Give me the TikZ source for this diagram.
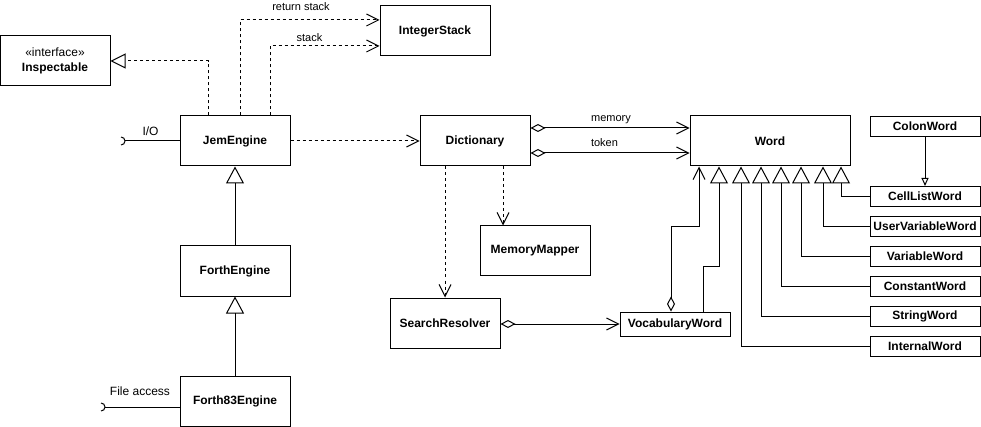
\documentclass[tikz,border=0pt]{standalone}
\usepackage{fontspec}
\setmainfont{Liberation Sans}
\usetikzlibrary{arrows.meta}
\begin{document}
\begin{tikzpicture}[x=1pt,y=-1pt,line width=1pt,
  cls/.style={draw,line width=1pt,minimum width=110pt,minimum height=50pt,inner sep=0pt,
    font=\fontsize{12}{15}\selectfont\bfseries,align=center},
  smallcls/.style={cls,minimum height=20pt},
  lbl/.style={font=\fontsize{11}{13}\selectfont,inner sep=0pt,anchor=base},
  biglbl/.style={font=\fontsize{12}{14}\selectfont,inner sep=0pt,anchor=base},
  dep/.style={dash pattern=on 3pt off 3pt,-{Straight Barb[length=12pt,width=12pt]}},
  realize/.style={dash pattern=on 3pt off 3pt,-{Triangle[open,length=15pt,width=15pt]}},
  inherit/.style={-{Triangle[open,length=17pt,width=18pt]}},
  aggr/.style={{Diamond[open,length=15pt,width=8pt]}-{Straight Barb[length=12pt,width=12pt]}},
  smallinherit/.style={-{Triangle[open,length=8pt,width=7pt]}}
]
\fill[white] (0,0) rectangle (981,427);
\useasboundingbox (0,0) rectangle (981,427);

% classes
\node[cls] (insp) at (55,61) {\mdseries «interface»\\Inspectable};
\node[cls] (istack) at (435,31) {IntegerStack};
\node[cls] (jem) at (235,141) {JemEngine};
\node[cls] (dict) at (475,141) {Dictionary};
\node[cls,minimum width=160pt] (word) at (770,141) {Word};
\node[cls] (mm) at (535,251) {MemoryMapper};
\node[cls] (sr) at (445,323) {SearchResolver};
\node[cls,minimum height=24pt] (vocab) at (675,324) {VocabularyWord};
\node[cls] (forth) at (235,271) {ForthEngine};
\node[cls] (f83) at (235,401) {Forth83Engine};

\node[smallcls] (colon) at (925,126.5) {ColonWord};
\node[smallcls] (cell) at (925,196.5) {CellListWord};
\node[smallcls] (uvar) at (925,226.5) {UserVariableWord};
\node[smallcls] (var) at (925,256.5) {VariableWord};
\node[smallcls] (const) at (925,286.5) {ConstantWord};
\node[smallcls] (string) at (925,316.5) {StringWord};
\node[smallcls] (internal) at (925,346.5) {InternalWord};

% JemEngine relations
\draw[realize] ([xshift=-27pt]jem.north) |- (insp.east);
\draw[dep] ([xshift=5pt]jem.north) |- ([yshift=11pt]istack.west);
\draw[dep] ([xshift=35pt]jem.north) |- ([yshift=-15pt]istack.west);
\node[lbl] (lret) at (301,11) {return stack};
\node[lbl] (lstack) at (309.5,42) {stack};
\draw[dep] (jem.east) -- (dict.west);

% interfaces (sockets)
\coordinate (iosock) at (125,141);
\draw (iosock) -- (jem.west);
\draw ([shift={(-4,-4)}]iosock) arc[start angle=-90,end angle=90,radius=4];
\node[biglbl] (lio) at (150.5,136) {I/O};

\coordinate (fsock) at (105,407);
\draw (fsock) -- ([yshift=-6pt]f83.west);
\draw ([shift={(-4,-4)}]fsock) arc[start angle=-90,end angle=90,radius=4];
\node[biglbl] (lfile) at (140,395) {File access};

% inheritance chain
\draw[inherit] (forth.north) -- (jem.south);
\draw[inherit] (f83.north) -- (forth.south);

% Dictionary relations
\draw[aggr] ([yshift=13pt]dict.east) -- ([yshift=13pt]word.west);
\draw[aggr] ([yshift=-12pt]dict.east) -- ([yshift=-12pt]word.west);
\node[lbl] (lmem) at (611,122) {memory};
\node[lbl] (ltok) at (604.5,147) {token};
\draw[dep] ([xshift=28pt]dict.south) -- ([xshift=28pt]dict.south |- mm.north);
\draw[dep] ([xshift=-30pt]dict.south) -- (sr.north);

% SearchResolver / VocabularyWord
\draw[aggr] (sr.east |- vocab.west) -- (vocab.west);
\draw[aggr] ([xshift=-4pt]vocab.north) -- ++(0,-85) -| ([xshift=-71pt]word.south);
\draw[inherit] ([xshift=28pt]vocab.north) -- ++(0,-45) -| ([xshift=-51pt]word.south);

% Word subclasses
\draw[inherit] (internal.west) -| ([xshift=-29pt]word.south);
\draw[inherit] (string.west) -| ([xshift=-9pt]word.south);
\draw[inherit] (const.west) -| ([xshift=11pt]word.south);
\draw[inherit] (var.west) -| ([xshift=31pt]word.south);
\draw[inherit] (uvar.west) -| ([xshift=53pt]word.south);
\draw[inherit] (cell.west) -| ([xshift=71pt]word.south);
\draw[smallinherit] (colon.south) -- (cell.north);
\end{tikzpicture}
\end{document}
